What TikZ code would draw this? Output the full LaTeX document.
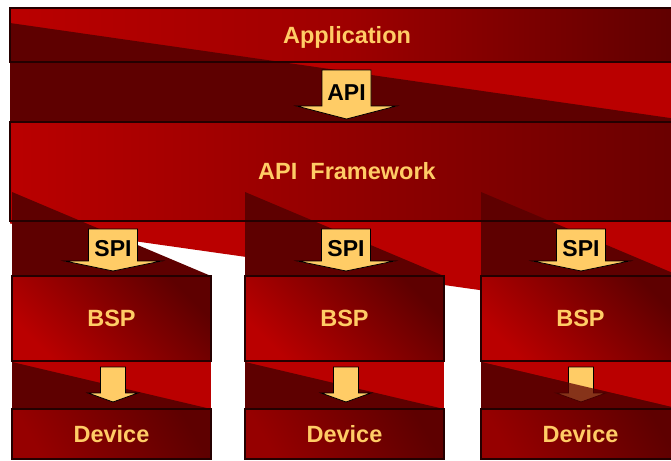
\documentclass[tikz,border=0pt]{standalone}
\usepackage{fontspec}
\setmainfont{Liberation Sans}

\definecolor{redbright}{HTML}{BA0000}
\definecolor{redmid}{HTML}{960000}
\definecolor{reddark}{HTML}{5E0000}
\definecolor{layeredge}{HTML}{240000}
\definecolor{gold}{HTML}{FFCC66}

\tikzset{
  layer/.style={draw=layeredge, line width=1.2pt, inner sep=0pt, text=gold,
    font=\bfseries\fontsize{23.5}{27}\selectfont, text height=16.8pt, text depth=0pt},
  tag/.style={inner sep=0pt, text=black,
    font=\bfseries\fontsize{23}{27}\selectfont, text height=16.5pt, text depth=0pt},
  fatarrow/.style={draw=black, line width=0.8pt, fill=gold, line join=miter},
}

% block arrow pointing down: centre x, top, neck, tip, half shaft, half head
\newcommand{\downblock}[6]{%
  \filldraw[fatarrow] ({#1-#5},#2) -- ({#1+#5},#2) -- ({#1+#5},#3) -- ({#1+#6},#3)
    -- (#1,#4) -- ({#1-#6},#3) -- ({#1-#5},#3) -- cycle;}

\begin{document}
\begin{tikzpicture}[x=1pt, y=-1pt]
\useasboundingbox (0,0) rectangle (671,460);

% Top band behind Application
\fill[redbright] (10,8) rectangle (684,122);
\shade[left color=redbright, right color=reddark, middle color=redbright!85!black] (10,8) rectangle (684,62);
\fill[reddark] (10,23) -- (684,120) -- (684,122) -- (10,122) -- cycle;

% Framework and the red wedge under it
\fill[redbright] (10,221) -- (684,221) -- (684,319) -- (10,223.5) -- cycle;
\shade[left color=redbright, right color=redmid!70!black] (10,122) rectangle (684,221);

% Column backgrounds
\foreach \i/\xl in {1/12, 2/245, 3/481} {
  \pgfmathsetmacro\xr{\xl+199}
  \fill[reddark] (\xl,192) -- (\xr,276) -- (\xl,276) -- cycle;
  \shade[bottom color=redbright, top color=reddark, shading angle=-45] (\xl,276) rectangle (\xr,361);
  \fill[redbright] (\xl,361) rectangle (\xr,409);
  \fill[reddark] (\xl,362) -- (\xr,409) -- (\xl,409) -- cycle;
  \shade[bottom color=redmid, top color=reddark, shading angle=-60] (\xl,409) rectangle (\xr,459);
}

% Layers
\node[layer, minimum width=674pt, minimum height=54pt] (app) at (347,35) {Application};
\node[layer, minimum width=674pt, minimum height=99pt] (apifw) at (347,171.5) {API\ \ Framework};

% API arrow
\downblock{346.5}{70}{106}{119}{24.5}{50}
\node[tag] (api) at (346.5,92) {API};

% SPI arrows and BSP to Device arrows
\foreach \i/\cx in {1/113, 2/346, 3/581} {
  \downblock{\cx}{229}{261}{271}{24.5}{48.5}
  \node[tag] (spi\i) at (\cx,248) {SPI};
  \downblock{\cx}{367}{393}{402}{12.5}{25}
}
\fill[reddark, opacity=0.75] (481,362) -- (680,409) -- (481,409) -- cycle;

\foreach \i/\xl in {1/12, 2/245, 3/481} {
  \node[layer, minimum width=199pt, minimum height=85pt] (bsp\i) at ({\xl+99.5},318.5) {BSP};
  \node[layer, minimum width=199pt, minimum height=50pt] (dev\i) at ({\xl+99.5},434) {Device};
}
\end{tikzpicture}
\end{document}
